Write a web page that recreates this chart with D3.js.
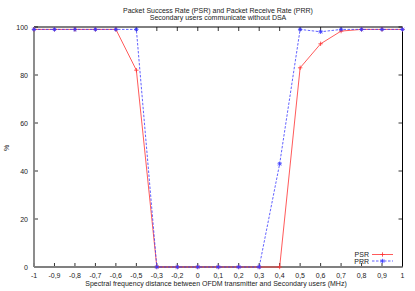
<!DOCTYPE html>
<html><head><meta charset="utf-8">
<script src="https://cdn.jsdelivr.net/npm/d3@7"></script>
<style>
html,body{margin:0;padding:0;background:#fff;}
text{font-family:"Liberation Sans",Arial,sans-serif;font-size:7px;fill:#222;}
</style></head>
<body>
<svg id="c" width="415" height="291"></svg>
<script>
const categories = ["-1","-0,9","-0,8","-0,7","-0,6","-0,5","-0,3","-0,2","0","0,1","0,2","0,3","0,4","0,5","0,6","0,7","0,8","0,9","1"];
const psr = [99,99,99,99,99,82,0,0,0,0,0,0,0,83,93,98.3,99,99,99];
const prr = [99,99,99,99,99,99,0,0,0,0,0,0,43,99,98,99,99,99,99];
const yTicks = [0,20,40,60,80,100];

const svg = d3.select("#c");
const L=34, R=402.5, T=27, B=267;
const x = d3.scalePoint().domain(categories).range([L,R]);
const y = d3.scaleLinear().domain([0,100]).range([B,T]);

// ticks
const tk = 4;
categories.forEach(c=>{
  svg.append("line").attr("x1",x(c)).attr("x2",x(c)).attr("y1",B).attr("y2",B-tk).attr("stroke","#000").attr("stroke-width",0.8);
  svg.append("line").attr("x1",x(c)).attr("x2",x(c)).attr("y1",T).attr("y2",T+tk).attr("stroke","#000").attr("stroke-width",0.8);
  svg.append("text").attr("x",x(c)).attr("y",B+11).attr("text-anchor","middle").text(c);
});
yTicks.forEach(v=>{
  svg.append("line").attr("x1",L).attr("x2",L+tk).attr("y1",y(v)).attr("y2",y(v)).attr("stroke","#000").attr("stroke-width",0.8);
  svg.append("line").attr("x1",R).attr("x2",R-tk).attr("y1",y(v)).attr("y2",y(v)).attr("stroke","#000").attr("stroke-width",0.8);
  svg.append("text").attr("x",L-6).attr("y",y(v)+2.5).attr("text-anchor","end").text(v);
});

// frame
svg.append("line").attr("x1",L).attr("x2",R).attr("y1",T).attr("y2",T).attr("stroke","#000").attr("stroke-width",1);
svg.append("line").attr("x1",R).attr("x2",R).attr("y1",T).attr("y2",B).attr("stroke","#000").attr("stroke-width",1);
svg.append("line").attr("x1",L).attr("x2",L).attr("y1",T).attr("y2",B).attr("stroke","#808080").attr("stroke-width",1.8);
svg.append("line").attr("x1",L).attr("x2",R).attr("y1",B).attr("y2",B).attr("stroke","#808080").attr("stroke-width",1.8);

const line = d3.line().x(d=>x(d[0])).y(d=>y(d[1]));
const psrD = categories.map((c,i)=>[c,psr[i]]);
const prrD = categories.map((c,i)=>[c,prr[i]]);

function plus(g,cx,cy,col){
  g.append("path").attr("d",`M${cx-2.2},${cy}H${cx+2.2}M${cx},${cy-2.2}V${cy+2.2}`).attr("stroke",col).attr("stroke-width",0.8).attr("fill","none");
}
function star(g,cx,cy,col){
  const s=2.2;
  g.append("path").attr("d",`M${cx-s},${cy}H${cx+s}M${cx},${cy-s}V${cy+s}M${cx-s*0.75},${cy-s*0.75}L${cx+s*0.75},${cy+s*0.75}M${cx-s*0.75},${cy+s*0.75}L${cx+s*0.75},${cy-s*0.75}`).attr("stroke",col).attr("stroke-width",0.8).attr("fill","none");
}

const red="#ff3030", blue="#3a3aff";
svg.append("path").attr("d",line(psrD)).attr("fill","none").attr("stroke",red).attr("stroke-width",0.8);
psrD.forEach(d=>plus(svg,x(d[0]),y(d[1]),red));
svg.append("path").attr("d",line(prrD)).attr("fill","none").attr("stroke",blue).attr("stroke-width",0.8).attr("stroke-dasharray","2.5,1.5");
prrD.forEach(d=>star(svg,x(d[0]),y(d[1]),blue));

// legend
svg.append("text").attr("x",369).attr("y",257).attr("text-anchor","end").text("PSR");
svg.append("line").attr("x1",372).attr("x2",393).attr("y1",254.5).attr("y2",254.5).attr("stroke",red).attr("stroke-width",0.8);
plus(svg,382.5,254.5,red);
svg.append("text").attr("x",369).attr("y",263.5).attr("text-anchor","end").text("PRR");
svg.append("line").attr("x1",372).attr("x2",393).attr("y1",261).attr("y2",261).attr("stroke",blue).attr("stroke-width",0.8).attr("stroke-dasharray","2.5,1.5");
star(svg,382.5,261,blue);

// titles
svg.append("text").attr("x",218).attr("y",13).attr("text-anchor","middle").text("Packet Success Rate (PSR) and Packet Receive Rate (PRR)");
svg.append("text").attr("x",218).attr("y",20).attr("text-anchor","middle").text("Secondary users communicate without DSA");
svg.append("text").attr("x",216).attr("y",286).attr("text-anchor","middle").text("Spectral frequency distance between OFDM transmitter and Secondary users (MHz)");
svg.append("text").attr("transform","translate(9,148) rotate(-90)").attr("text-anchor","middle").text("%");
</script>
</body></html>
